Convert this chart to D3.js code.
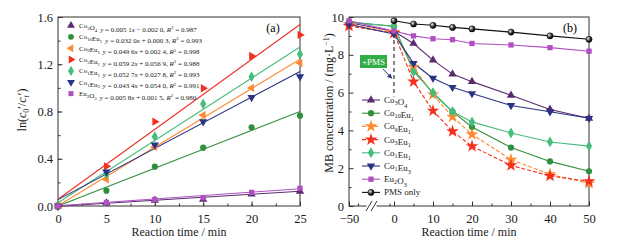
<!DOCTYPE html>
<html>
<head>
<meta charset="utf-8">
<script src="https://cdn.jsdelivr.net/npm/d3@7/dist/d3.min.js"></script>
<style>
  html, body { margin: 0; padding: 0; background: #fff; }
  svg, svg text { font-family: "Liberation Serif", "DejaVu Serif", serif; }
  .tick-lbl { font-size: 12.5px; fill: #1a1a1a; }
  .ax-lbl { font-size: 12px; fill: #1a1a1a; }
  .leg-a { font-size: 7px; fill: #222; }
  .leg-b { font-size: 9px; fill: #222; }
</style>
</head>
<body>
<svg id="chart" width="624" height="244"></svg>
<script>
// ---- data: panel (a) kinetics ----
const seriesNames = ['Co3O4', 'Co10Eu1', 'Co9Eu1', 'Co3Eu1', 'Co1Eu1', 'Co1Eu3', 'Eu2O3'];
const timeA = [0, 5, 10, 15, 20, 25];
const lnCo3O4  = [0, 0.025, 0.048, 0.057, 0.100, 0.125];
const lnCo10Eu1 = [0, 0.130, 0.333, 0.494, 0.666, 0.765];
const lnCo9Eu1 = [0, 0.225, 0.500, 0.770, 1.000, 1.210];
const lnCo3Eu1 = [0, 0.336, 0.714, 0.997, 1.270, 1.448];
const lnCo1Eu1 = [0, 0.270, 0.587, 0.864, 1.095, 1.284];
const lnCo1Eu3 = [0, 0.288, 0.517, 0.714, 0.920, 1.095];
const lnEu2O3  = [0, 0.030, 0.055, 0.070, 0.115, 0.150];
const slopes     = [0.0051, 0.0320, 0.0496, 0.0592, 0.0527, 0.0434, 0.0058];
const intercepts = [-0.0020, 0.0003, 0.0024, 0.0569, 0.0278, 0.0540, 0.0015];
const r2         = [0.987, 0.993, 0.998, 0.988, 0.993, 0.991, 0.980];
const ticksAx = [0, 5, 10, 15, 20, 25];
const ticksAy = [0.0, 0.4, 0.8, 1.2, 1.6];

// ---- data: panel (b) MB concentration ----
const timeB = [-50, 0, 5, 10, 15, 20, 30, 40, 50];
const mbCo3O4   = [9.70, 9.25, 8.60, 7.72, 6.98, 6.58, 5.86, 5.11, 4.64];
const mbCo10Eu1 = [9.75, 9.50, 7.20, 5.96, 4.99, 4.18, 3.09, 2.36, 1.84];
const mbCo9Eu1  = [9.60, 9.20, 7.35, 5.90, 4.72, 3.79, 2.45, 1.68, 1.20];
const mbCo3Eu1  = [9.52, 9.15, 6.58, 5.04, 3.95, 3.16, 2.15, 1.59, 1.31];
const mbCo1Eu1  = [9.70, 9.52, 7.10, 6.00, 5.00, 4.45, 3.86, 3.39, 3.17];
const mbCo1Eu3  = [9.60, 9.10, 7.55, 6.76, 6.28, 5.95, 5.32, 4.99, 4.64];
const mbEu2O3   = [9.80, 9.26, 9.00, 8.85, 8.80, 8.60, 8.52, 8.38, 8.19];
const mbPMS     = [null, 9.80, 9.63, 9.56, 9.45, 9.37, 9.20, 9.00, 8.82];
const ticksBx = [-50, 0, 10, 20, 30, 40, 50];
const ticksBy = [0, 2, 4, 6, 8, 10];

const colors = ['#5a2b6e', '#2f8f3c', '#ff8a33', '#f2301f', '#47bd7c', '#2c3384', '#b04fc2', '#111'];
const shapesA = ['up', 'circle', 'left', 'right', 'diamond', 'down', 'square'];
const shapesB = ['up', 'circle', 'star', 'star', 'diamond', 'down', 'square', 'ball'];
const dashedB = [false, false, true, true, false, false, false, false];

const svg = d3.select('#chart');
const defs = svg.append('defs');
const grad = defs.append('radialGradient').attr('id', 'ball').attr('cx', '35%').attr('cy', '35%').attr('r', '65%');
grad.append('stop').attr('offset', '0%').attr('stop-color', '#eee');
grad.append('stop').attr('offset', '60%').attr('stop-color', '#333');
grad.append('stop').attr('offset', '100%').attr('stop-color', '#000');

function marker(g, shape, x, y, color, s) {
  s = s || 1;
  const sym = { up: d3.symbolTriangle, down: d3.symbolTriangle, left: d3.symbolTriangle, right: d3.symbolTriangle,
    circle: d3.symbolCircle, diamond: d3.symbolDiamond, square: d3.symbolSquare, star: d3.symbolStar, ball: d3.symbolCircle }[shape];
  const size = { star: 50, diamond: 34, square: 28, circle: 30, ball: 30 }[shape] || 30;
  const rot = { down: 180, left: -90, right: 90 }[shape] || 0;
  g.append('path').attr('d', d3.symbol().type(sym).size(size * s)())
    .attr('transform', `translate(${x},${y}) rotate(${rot})`)
    .attr('fill', shape === 'ball' ? 'url(#ball)' : color)
    .attr('stroke', shape === 'ball' ? '#000' : 'none').attr('stroke-width', 0.5);
}

function frame(x0, x1, y0, y1) {
  svg.append('rect').attr('x', x0).attr('y', y1).attr('width', x1 - x0).attr('height', y0 - y1)
    .attr('fill', 'none').attr('stroke', '#333').attr('stroke-width', 1);
}

// strip d3's default axis font so the serif family applies
function cleanAxis(g) {
  g.attr('font-family', null).attr('font-size', null);
  g.select('.domain').remove();
  g.selectAll('text').attr('class', 'tick-lbl');
  g.selectAll('line').attr('stroke', '#333');
}

// =========================== panel (a) ===========================
const xA = d3.scaleLinear().domain([0, 25]).range([58, 300]);
const yA = d3.scaleLinear().domain([0, 1.6]).range([206, 17]);

svg.append('g').attr('transform', 'translate(0,206)')
  .call(d3.axisBottom(xA).tickValues(d3.range(0, 25.1, 2.5)).tickSize(-2.5).tickFormat(''))
  .call(cleanAxis);
svg.append('g').attr('transform', 'translate(0,206)')
  .call(d3.axisBottom(xA).tickValues(ticksAx).tickSize(-4.5).tickPadding(8).tickFormat(d3.format('d')))
  .call(cleanAxis);
svg.append('g').attr('transform', 'translate(58,0)')
  .call(d3.axisLeft(yA).tickValues(d3.range(0, 1.61, 0.2)).tickSize(-2.5).tickFormat(''))
  .call(cleanAxis);
svg.append('g').attr('transform', 'translate(58,0)')
  .call(d3.axisLeft(yA).tickValues(ticksAy).tickSize(-4.5).tickPadding(5).tickFormat(d3.format('.1f')))
  .call(cleanAxis);
frame(58, 300, 206, 17);

const seriesA = [lnCo3O4, lnCo10Eu1, lnCo9Eu1, lnCo3Eu1, lnCo1Eu1, lnCo1Eu3, lnEu2O3];
const gA = svg.append('g');
// fit lines
seriesA.forEach((vals, i) => {
  const fit = [0, 25].map(t => [t, slopes[i] * t + intercepts[i]]);
  gA.append('path').datum(fit)
    .attr('d', d3.line().x(d => xA(d[0])).y(d => yA(d[1])))
    .attr('fill', 'none').attr('stroke', colors[i]).attr('stroke-width', 1.1);
});
seriesA.forEach((vals, i) => {
  vals.forEach((v, j) => marker(gA, shapesA[i], xA(timeA[j]), yA(v), colors[i]));
});

// legend (a)
function chem(t, name, fs) {
  const m = name.match(/[A-Z][a-z]?|\d+/g);
  m.forEach(p => {
    if (/\d/.test(p)) {
      t.append('tspan').attr('font-size', fs * 0.7).attr('dy', fs * 0.25).text(p);
      t.append('tspan').attr('dy', -fs * 0.25).text('');
    } else t.append('tspan').text(p);
  });
}
const f4 = v => { const s = Math.abs(v).toFixed(4); return s.slice(0, 5) + ' ' + s.slice(5); };
seriesNames.forEach((n, i) => {
  const y = 25.5 + i * 11.35;
  marker(svg, shapesA[i], 71, y, colors[i], 0.9);
  const t = svg.append('text').attr('class', 'leg-a').attr('x', 79).attr('y', y + 2.5);
  chem(t, n, 7);
  t.append('tspan').attr('dx', 3).attr('font-style', 'italic').text('y');
  t.append('tspan').text(' = ' + f4(slopes[i]));
  t.append('tspan').attr('font-style', 'italic').text('x');
  t.append('tspan').text((intercepts[i] < 0 ? ' \u2212 ' : ' + ') + f4(intercepts[i]) + ', ');
  t.append('tspan').attr('font-style', 'italic').text('R');
  t.append('tspan').attr('font-size', 5).attr('dy', -2.5).text('2');
  t.append('tspan').attr('dy', 2.5).text(' = ' + r2[i].toFixed(3));
});
svg.append('text').attr('x', 273).attr('y', 32).attr('font-size', 12).attr('text-anchor', 'middle').text('(a)');

svg.append('text').attr('class', 'ax-lbl').attr('x', 179).attr('y', 236).attr('text-anchor', 'middle')
  .text('Reaction time / min');
const ylA = svg.append('text').attr('class', 'ax-lbl').attr('text-anchor', 'middle')
  .attr('transform', 'translate(26,110) rotate(-90)');
ylA.append('tspan').text('ln(');
ylA.append('tspan').attr('font-style', 'italic').text('c');
ylA.append('tspan').attr('font-size', 8).attr('dy', 3).text('0');
ylA.append('tspan').attr('dy', -3).text('\u2032/');
ylA.append('tspan').attr('font-style', 'italic').text('c');
ylA.append('tspan').attr('font-size', 8).attr('font-style', 'italic').attr('dy', 3).text('t');
ylA.append('tspan').attr('dy', -3).text('\u2032)');

// =========================== panel (b) ===========================
const xB = d3.scaleLinear().domain([-50, 0, 50]).range([349, 394, 589]);
const yB = d3.scaleLinear().domain([0, 10]).range([206, 17]);

svg.append('g').attr('transform', 'translate(0,206)')
  .call(d3.axisBottom(xB).tickValues([-40, -5].concat(d3.range(5, 50, 10))).tickSize(-2.5).tickFormat(''))
  .call(cleanAxis);
svg.append('g').attr('transform', 'translate(0,206)')
  .call(d3.axisBottom(xB).tickValues(ticksBx).tickSize(-4.5).tickPadding(8).tickFormat(d => d < 0 ? '\u2212' + (-d) : d))
  .call(cleanAxis);
svg.append('g').attr('transform', 'translate(349,0)')
  .call(d3.axisLeft(yB).tickValues(d3.range(1, 10, 2)).tickSize(-2.5).tickFormat(''))
  .call(cleanAxis);
svg.append('g').attr('transform', 'translate(349,0)')
  .call(d3.axisLeft(yB).tickValues(ticksBy).tickSize(-4.5).tickPadding(5))
  .call(cleanAxis);
frame(349, 589, 206, 17);
// axis break
const bx = xB(-25);
svg.append('rect').attr('x', bx - 5).attr('y', 203).attr('width', 10).attr('height', 6).attr('fill', '#fff');
[-2.5, 2.5].forEach(o => svg.append('line')
  .attr('x1', bx + o - 3).attr('y1', 211).attr('x2', bx + o + 3).attr('y2', 201)
  .attr('stroke', '#333').attr('stroke-width', 1));

// dashed marker line at PMS addition
svg.append('line').attr('x1', xB(0)).attr('x2', xB(0)).attr('y1', yB(9.9)).attr('y2', yB(5.8))
  .attr('stroke', '#222').attr('stroke-width', 1.1).attr('stroke-dasharray', '4,3');

const seriesB = [mbCo3O4, mbCo10Eu1, mbCo9Eu1, mbCo3Eu1, mbCo1Eu1, mbCo1Eu3, mbEu2O3, mbPMS];
const legendB = seriesNames.concat(['PMS only']);
const gB = svg.append('g');
const lineB = d3.line().defined(d => d[1] != null).x(d => xB(d[0])).y(d => yB(d[1]));
seriesB.forEach((vals, i) => {
  const pts = timeB.map((t, j) => [t, vals[j]]);
  gB.append('path').datum(pts).attr('d', lineB)
    .attr('fill', 'none').attr('stroke', colors[i]).attr('stroke-width', 1.1)
    .attr('stroke-dasharray', dashedB[i] ? '4,2' : null);
});
seriesB.forEach((vals, i) => {
  vals.forEach((v, j) => { if (v != null) marker(gB, shapesB[i], xB(timeB[j]), yB(v), colors[i]); });
});

// +PMS annotation
svg.append('rect').attr('x', 360).attr('y', 55).attr('width', 27).attr('height', 13).attr('fill', '#2fae45');
svg.append('text').attr('x', 373.5).attr('y', 64.5).attr('text-anchor', 'middle')
  .attr('font-size', 9).attr('fill', '#fff').text('+PMS');
defs.append('marker').attr('id', 'arr').attr('viewBox', '0 0 10 10').attr('refX', 8).attr('refY', 5)
  .attr('markerWidth', 5).attr('markerHeight', 5).attr('orient', 'auto')
  .append('path').attr('d', 'M0,0L10,5L0,10z').attr('fill', '#2c3384');
svg.append('line').attr('x1', 383).attr('y1', 69).attr('x2', 391.5).attr('y2', 78)
  .attr('stroke', '#2c3384').attr('stroke-width', 1).attr('marker-end', 'url(#arr)');

// legend (b)
legendB.forEach((n, i) => {
  const y = 100 + i * 13.2;
  svg.append('line').attr('x1', 362).attr('x2', 380).attr('y1', y).attr('y2', y)
    .attr('stroke', colors[i]).attr('stroke-width', 1.1).attr('stroke-dasharray', dashedB[i] ? '4,2' : null);
  marker(svg, shapesB[i], 371, y, colors[i]);
  const t = svg.append('text').attr('class', 'leg-b').attr('x', 384).attr('y', y + 3);
  if (n === 'PMS only') t.text(n); else chem(t, n, 9);
});
svg.append('text').attr('x', 570).attr('y', 32).attr('font-size', 12).attr('text-anchor', 'middle').text('(b)');

svg.append('text').attr('class', 'ax-lbl').attr('x', 469).attr('y', 236).attr('text-anchor', 'middle')
  .text('Reaction time / min');
const ylB = svg.append('text').attr('class', 'ax-lbl').attr('text-anchor', 'middle')
  .attr('transform', 'translate(333,103) rotate(-90)');
ylB.append('tspan').text('MB concentration / (mg\u00b7L');
ylB.append('tspan').attr('font-size', 8).attr('dy', -4).text('\u22121');
ylB.append('tspan').attr('dy', 4).text(')');
</script>
</body>
</html>
